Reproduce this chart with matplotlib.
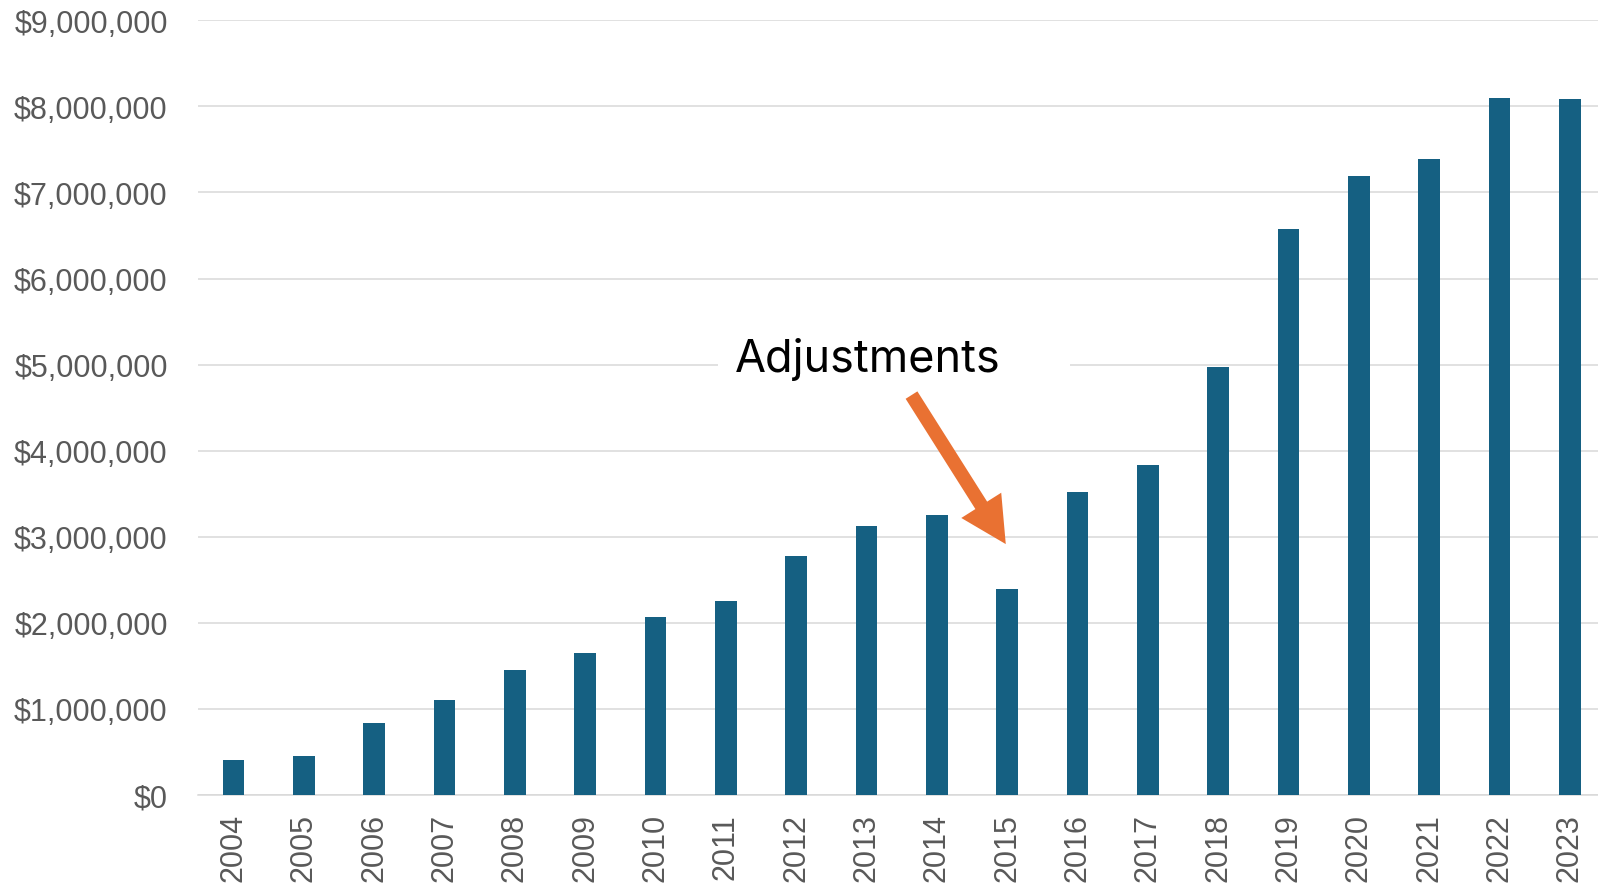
import matplotlib
matplotlib.use("Agg")
import matplotlib.pyplot as plt
from matplotlib.patches import FancyArrowPatch, Rectangle, ArrowStyle
from matplotlib.ticker import FuncFormatter
import numpy as np

years = [str(y) for y in range(2004, 2024)]
values = [410000, 456000, 836000, 1107000, 1456000, 1646000, 2072000, 2250000,
          2780000, 3130000, 3255000, 2390000, 3516000, 3835000, 4970000, 6570000,
          7186000, 7387000, 8100000, 8083000]
note = "Adjustments"

bar_color = "#156082"
arrow_color = "#E97132"
grid_color = "#D9D9D9"
tick_color = "#595959"

fig = plt.figure(figsize=(15.98, 8.87), dpi=100)
ax = fig.add_axes([198.3 / 1598, 91 / 887, 1 - 198.3 / 1598, (865.7 - 91) / 887])

x = np.arange(len(years))
ax.bar(x, values, width=0.31, color=bar_color, zorder=3)

ax.set_ylim(0, 9000000)
ax.set_xlim(-0.5, 19.4)
ax.set_yticks(np.arange(0, 9000001, 1000000))
ax.yaxis.set_major_formatter(FuncFormatter(lambda v, p: "${:,.0f}".format(v)))
ax.set_xticks(x)
ax.set_xticklabels(years, rotation=90)

ax.grid(axis="y", color=grid_color, linewidth=1.1, zorder=0)
for s in ["top", "right", "left"]:
    ax.spines[s].set_visible(False)
ax.spines["bottom"].set_color(grid_color)
ax.spines["bottom"].set_linewidth(1.1)
ax.spines["bottom"].set_zorder(1)

ax.tick_params(axis="y", length=0, pad=22, labelsize=22, labelcolor=tick_color)
ax.tick_params(axis="x", length=0, pad=13, labelsize=22, labelcolor=tick_color)
for lab in ax.get_xticklabels() + ax.get_yticklabels():
    lab.set_fontfamily("Liberation Sans")

# white box hiding the gridline behind the note
ax.add_patch(Rectangle((6.89, 4.7e6), 5.0, 0.6e6, facecolor="white",
                       edgecolor="none", zorder=2))
ax.text(9.02, 4.921e6, note, ha="center", va="baseline", fontsize=32.4,
        fontfamily="Inter", color="black", zorder=4)

arrow = FancyArrowPatch((9.64, 4.646e6), (10.98, 2.915e6),
                        arrowstyle=ArrowStyle.Simple(head_length=33, head_width=34,
                                                     tail_width=10),
                        mutation_scale=1, shrinkA=0, shrinkB=0,
                        color=arrow_color, linewidth=0, zorder=5)
ax.add_patch(arrow)

fig.savefig("out.png", dpi=100)
